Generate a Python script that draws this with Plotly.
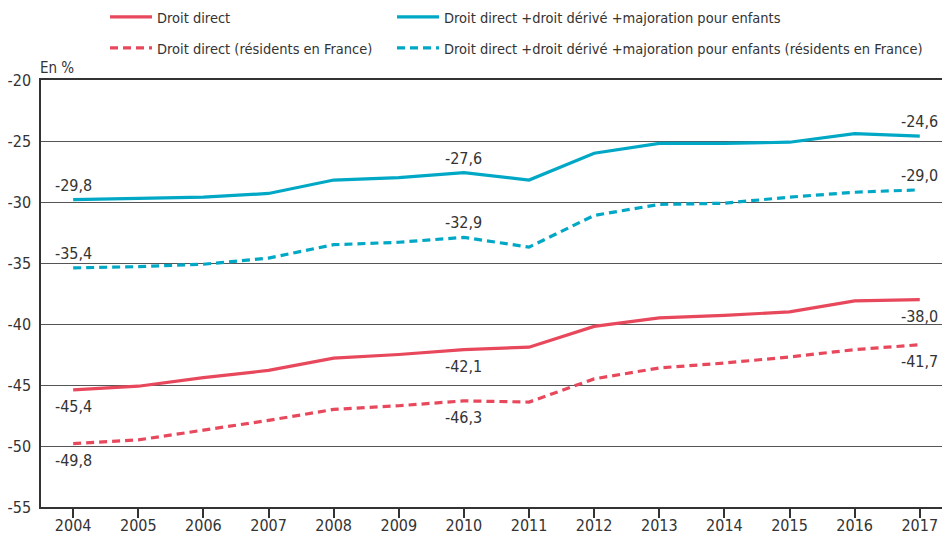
import plotly.graph_objects as go

years = list(range(2004, 2018))
tick_labels = [str(y) for y in years]
y_ticks = [-55, -50, -45, -40, -35, -30, -25, -20]

droit_direct = [-45.4, -45.1, -44.4, -43.8, -42.8, -42.5, -42.1, -41.9, -40.2, -39.5, -39.3, -39.0, -38.1, -38.0]
droit_direct_res = [-49.8, -49.5, -48.7, -47.9, -47.0, -46.7, -46.3, -46.4, -44.5, -43.6, -43.2, -42.7, -42.1, -41.7]
droit_total = [-29.8, -29.7, -29.6, -29.3, -28.2, -28.0, -27.6, -28.2, -26.0, -25.2, -25.2, -25.1, -24.4, -24.6]
droit_total_res = [-35.4, -35.3, -35.1, -34.6, -33.5, -33.3, -32.9, -33.7, -31.1, -30.2, -30.1, -29.6, -29.2, -29.0]

names = [
    "Droit direct",
    "Droit direct +droit dérivé +majoration pour enfants",
    "Droit direct (résidents en France)",
    "Droit direct +droit dérivé +majoration pour enfants (résidents en France)",
]

RED = "#E8485C"
CYAN = "#00A8C6"
FONT = "DejaVu Sans Condensed, DejaVu Sans, sans-serif"
TXT = "#333333"

# page is offset by the 8px body margin
W, H = 942, 534

fig = go.Figure()
series = [
    (droit_direct, names[0], RED, "solid", "legend"),
    (droit_total, names[1], CYAN, "solid", "legend2"),
    (droit_direct_res, names[2], RED, "dash", "legend3"),
    (droit_total_res, names[3], CYAN, "dash", "legend4"),
]
for vals, name, col, dash, leg in series:
    fig.add_trace(go.Scatter(
        x=years, y=vals, name=name, mode="lines",
        line=dict(color=col, width=3.2, dash="8px,5px" if dash == "dash" else "solid"),
        legend=leg, hoverinfo="skip",
    ))

# invisible trace on the overlay axis carrying the year labels
fig.add_trace(go.Scatter(x=years, y=droit_direct, xaxis="x2", mode="lines",
                         line=dict(width=0), showlegend=False, hoverinfo="skip",
                         opacity=0))

def fmt(v):
    return f"{v:.1f}".replace(".", ",")

label_specs = [
    (droit_total, 0, True), (droit_total, 6, True), (droit_total, 13, True),
    (droit_total_res, 0, True), (droit_total_res, 6, True), (droit_total_res, 13, True),
    (droit_direct, 0, False), (droit_direct, 6, False), (droit_direct, 13, False),
    (droit_direct_res, 0, False), (droit_direct_res, 6, False), (droit_direct_res, 13, False),
]
for vals, i, above in label_specs:
    fig.add_annotation(
        x=years[i], y=vals[i], text=fmt(vals[i]), showarrow=False,
        yanchor="bottom" if above else "top",
        yshift=3 if above else -5,
        font=dict(family=FONT, size=16, color=TXT),
    )

fig.add_annotation(
    xref="paper", yref="paper", x=0, y=1, xanchor="left", yanchor="bottom",
    text="En %", showarrow=False, yshift=1, xshift=-3,
    font=dict(family=FONT, size=15, color=TXT),
)

def leg(xpx, ypx):
    return dict(
        orientation="h", xref="container", yref="container",
        x=xpx / W, y=1 - ypx / H, xanchor="left", yanchor="middle",
        font=dict(family=FONT, size=14.5, color=TXT), bgcolor="rgba(0,0,0,0)",
        itemwidth=42,
    )

xr = [2003.506, 2017.464]
fig.update_layout(
    width=W, height=H,
    margin=dict(l=30, r=0, t=72, b=35),
    plot_bgcolor="white", paper_bgcolor="white",
    font=dict(family=FONT, size=16, color=TXT),
    legend=leg(97, 9), legend2=leg(384, 9),
    legend3=leg(97, 40), legend4=leg(384, 40),
    xaxis=dict(
        range=xr, tickvals=years, showticklabels=False,
        showgrid=False, showline=True, linecolor="#333333", linewidth=1.5,
        mirror=True,
        ticks="outside", ticklen=9, tickcolor="#333333", tickwidth=1.5,
        zeroline=False,
    ),
    xaxis2=dict(
        range=xr, tickvals=years, ticktext=tick_labels, overlaying="x",
        anchor="y", side="bottom", showgrid=False, showline=False, ticks="",
        tickfont=dict(family=FONT, size=16, color=TXT), zeroline=False,
        ticklabelstandoff=7,
    ),
    yaxis=dict(
        range=[-55, -20], tickvals=y_ticks, ticktext=[str(v) for v in y_ticks],
        showgrid=True, gridcolor="#555555", gridwidth=1.2,
        showline=True, linecolor="#333333", linewidth=1.5, ticks="",
        tickfont=dict(family=FONT, size=16, color=TXT), zeroline=False,
        ticklabelstandoff=5,
    ),
    showlegend=True,
)

fig.write_html("out.html")
